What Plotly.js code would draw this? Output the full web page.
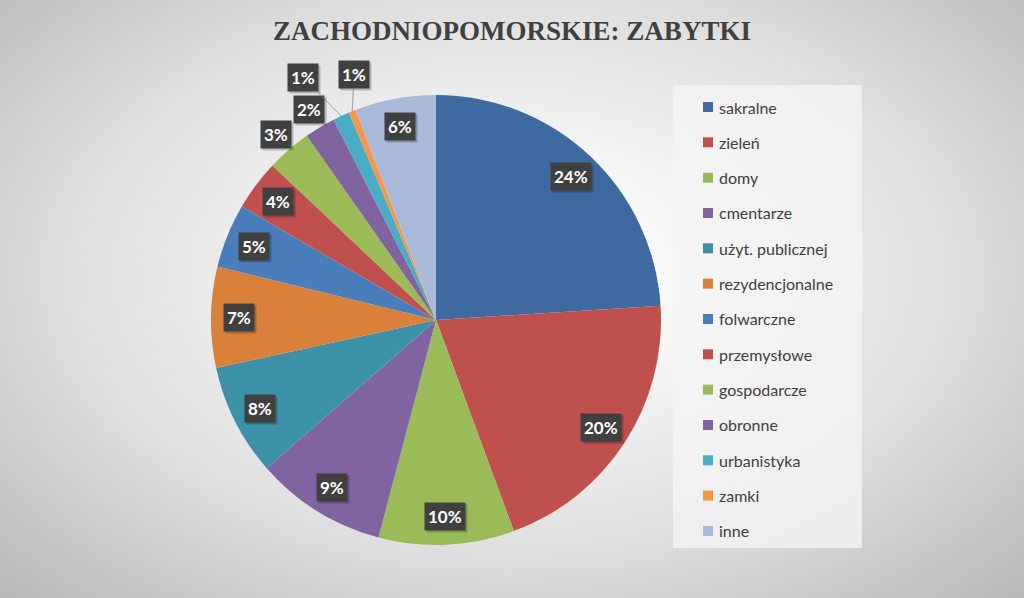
<!DOCTYPE html>
<html>
<head>
<meta charset="utf-8">
<script src="https://cdn.plot.ly/plotly-3.0.1.min.js"></script>
<style>
  html, body { margin: 0; padding: 0; background: #ffffff; }
  #chart {
    width: 1024px;
    height: 598px;
    background: radial-gradient(ellipse farthest-corner at 50% 46%, #ffffff 0%, #f8f8f8 22%, #dedede 62%, #b8b8b8 100%);
  }
</style>
</head>
<body>
<div id="chart"></div>
<script>
// data (share of monuments, %)
const categories = [
  "sakralne", "zieleń", "domy", "cmentarze", "użyt. publicznej", "rezydencjonalne",
  "folwarczne", "przemysłowe", "gospodarcze", "obronne", "urbanistyka", "zamki", "inne",
];
const shares = [23.9, 20.3, 9.7, 9.4, 8.0, 7.2, 4.6, 3.6, 3.2, 2.2, 1.2, 0.5, 5.8];
const sliceColors = [
  "#3e6a9f", "#c0504d", "#9bbb59", "#8064a2", "#3b91a8", "#d9803a",
  "#4a7ebb", "#c0504d", "#9bbb59", "#8064a2", "#4bacc6", "#f79646", "#a8b9da",
];

const W = 1024, H = 598;
const CX = 436, CY = 320, R = 225;
const TEXT = "#404040";

// small slices whose labels sit outside with a leader line
const leaderLabels = {
  urbanistyka: { f: 1.23, dAngle: -3.7 },
  zamki: { f: 1.15, dAngle: 3.4 },
};

const px = x => x / W;
const py = y => 1 - y / H;

function polar(angleDeg, f) {
  const a = angleDeg * Math.PI / 180;
  return { x: CX + R * f * Math.sin(a), y: CY - R * f * Math.cos(a) };
}

const total = shares.reduce((s, v) => s + v, 0);
const annotations = [];
const shadows = [];
let cum = 0;

shares.forEach((v, i) => {
  const mid = (cum + v / 2) / total * 360;
  cum += v;
  const text = `${Math.round(v / total * 100)}%`;
  const labelStyle = {
    text,
    xref: "paper",
    yref: "paper",
    xanchor: "center",
    yanchor: "middle",
    font: { family: "Lato, 'Open Sans', sans-serif", size: 17, color: "#ffffff", weight: "bold" },
    bgcolor: "#404040",
    borderpad: 3,
  };
  const lead = leaderLabels[categories[i]];
  let pos;
  if (lead) {
    pos = polar(mid + lead.dAngle, lead.f);
    const edge = polar(mid, 1.0);
    annotations.push({
      ...labelStyle,
      x: px(edge.x),
      y: py(edge.y),
      showarrow: true,
      arrowhead: 0,
      arrowwidth: 0.8,
      arrowcolor: "#8c8c8c",
      ax: pos.x - edge.x,
      ay: pos.y - edge.y,
    });
  } else {
    const f = v / total < 0.035 ? 1.09 : 0.875;
    pos = polar(mid, f);
    annotations.push({ ...labelStyle, x: px(pos.x), y: py(pos.y), showarrow: false });
  }
  shadows.push({
    ...labelStyle,
    font: { ...labelStyle.font, color: "rgba(0,0,0,0)" },
    bgcolor: "rgba(0,0,0,0.22)",
    x: px(pos.x),
    y: py(pos.y),
    xshift: 2,
    yshift: -2,
    showarrow: false,
  });
});

// legend drawn by hand to match the wide row spacing
const LEG = { x0: 673, x1: 862, y0: 85, y1: 548, first: 107, step: 35.33, mark: 703, text: 717 };
const shapes = [{
  type: "rect",
  xref: "paper", yref: "paper",
  x0: px(LEG.x0), x1: px(LEG.x1), y0: py(LEG.y1), y1: py(LEG.y0),
  fillcolor: "rgba(244,244,244,0.8)",
  line: { width: 0 },
  layer: "below",
}];
const legendText = [];
categories.forEach((name, i) => {
  const yc = LEG.first + i * LEG.step;
  shapes.push({
    type: "rect",
    xref: "paper", yref: "paper",
    x0: px(LEG.mark), x1: px(LEG.mark + 10),
    y0: py(yc + 5), y1: py(yc - 5),
    fillcolor: sliceColors[i],
    line: { width: 0 },
  });
  legendText.push({
    text: name,
    xref: "paper", yref: "paper",
    x: px(LEG.text), y: py(yc),
    xanchor: "left", yanchor: "middle",
    showarrow: false,
    font: { family: "Lato, 'Open Sans', sans-serif", size: 16, color: TEXT },
  });
});

const trace = {
  type: "pie",
  labels: categories,
  values: shares,
  sort: false,
  direction: "clockwise",
  rotation: 0,
  textinfo: "none",
  hoverinfo: "label+percent",
  marker: { colors: sliceColors, line: { width: 0 } },
  domain: { x: [px(CX - R), px(CX + R)], y: [py(CY + R), py(CY - R)] },
};

const layout = {
  width: W,
  height: H,
  margin: { l: 0, r: 0, t: 0, b: 0 },
  paper_bgcolor: "rgba(0,0,0,0)",
  plot_bgcolor: "rgba(0,0,0,0)",
  showlegend: false,
  title: {
    text: "ZACHODNIOPOMORSKIE: ZABYTKI",
    x: 0.5,
    xanchor: "center",
    y: py(31),
    yanchor: "middle",
    font: { family: "'Liberation Serif', 'DejaVu Serif', serif", size: 27, color: TEXT, weight: "bold" },
  },
  shapes,
  annotations: [...shadows, ...annotations, ...legendText],
};

Plotly.newPlot("chart", [trace], layout, { displayModeBar: false, staticPlot: true });
</script>
</body>
</html>
